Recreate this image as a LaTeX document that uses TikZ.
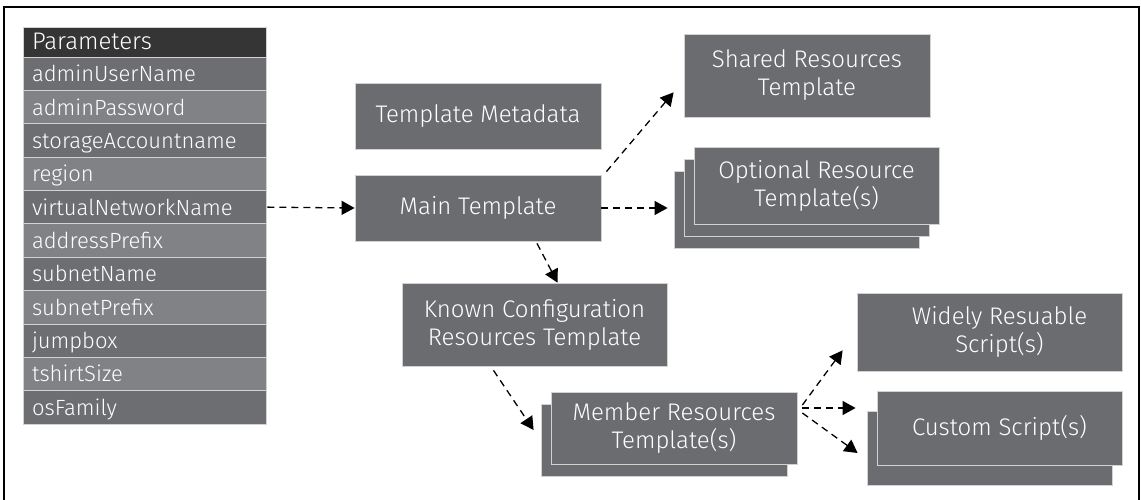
\documentclass[tikz,border=0pt]{standalone}
\usepackage{fontspec}
\IfFontExistsTF{Fira Sans Light}{\setmainfont{Fira Sans Light}}{\setmainfont{Liberation Sans}}
\usetikzlibrary{arrows.meta,calc}

\definecolor{boxgray}{HTML}{6B6C70}
\definecolor{rowdark}{HTML}{6D6E71}
\definecolor{rowlight}{HTML}{818285}
\definecolor{headgray}{HTML}{353535}

\tikzset{
  tbox/.style={fill=boxgray, draw=gray!35, line width=0.8pt, text=white,
    align=center, inner sep=0pt, font=\fontsize{24}{28}\selectfont},
  prow/.style={draw=gray!35, line width=0.6pt, text=white, minimum height=33.4pt,
    text width=225pt, inner xsep=9pt, inner ysep=0pt, align=left,
    text height=16pt, text depth=0pt, font=\fontsize{22}{24}\selectfont},
  flow/.style={line width=1.3pt, dash pattern=on 7pt off 5pt,
    -{Triangle[length=13pt,width=14pt]}},
}

\begin{document}
\begin{tikzpicture}[x=1pt,y=-1pt]
\useasboundingbox (0,0) rectangle (1141,500);
\draw[line width=2.2pt] (4,500) -- (4,7) -- (1139,7) -- (1139,500);

% parameter table
\node[prow, fill=headgray, minimum height=30pt, font=\fontsize{24}{26}\selectfont] (phead) at (144.5,42) {Parameters};
\foreach \pname [count=\i] in {adminUserName,adminPassword,storageAccountname,region,virtualNetworkName,addressPrefix,subnetName,subnetPrefix,jumpbox,tshirtSize,osFamily} {
  \ifodd\i \def\rowcol{rowdark}\else \def\rowcol{rowlight}\fi
  \node[prow, fill=\rowcol] (p\i) at (144.5,{57+33.36*(\i-0.5)}) {\pname};
}

% templates
\node[tbox, minimum width=246pt, minimum height=66pt] (meta) at (478,116) {Template Metadata};
\node[tbox, minimum width=246pt, minimum height=66pt] (main) at (478,208) {Main Template};
\node[tbox, minimum width=246pt, minimum height=83pt] (shared) at (807,75.5) {Shared Resources\\Template};

\node[tbox, minimum width=245pt, minimum height=77pt] (opt3) at (796.5,210) {};
\node[tbox, minimum width=245pt, minimum height=77pt] (opt2) at (806.5,198) {};
\node[tbox, minimum width=245pt, minimum height=77pt] (opt1) at (816.5,185.5) {Optional Resource\\Template(s)};

\node[tbox, minimum width=265pt, minimum height=83pt] (known) at (534.5,324.5) {Known Configuration\\Resources Template};

\node[tbox, minimum width=246pt, minimum height=72pt] (mem2) at (664,440) {};
\node[tbox, minimum width=246pt, minimum height=72pt] (mem1) at (674,428) {Member Resources\\Template(s)};

% scripts
\node[tbox, minimum width=265pt, minimum height=78pt] (wide) at (989.5,332) {\hspace*{20pt}Widely Resuable\\\hspace*{20pt}Script(s)};
\node[tbox, minimum width=245pt, minimum height=74pt] (cust2) at (989.5,448) {};
\node[tbox, minimum width=245pt, minimum height=74pt] (cust1) at (999.5,428) {Custom Script(s)};

% connectors
\draw[flow, shorten <=1pt] (p5.east) -- (main.west);
\draw[flow] ($(main.north east)+(5,-3)$) -- ($(shared.south west)+(-10,-25)$);
\draw[flow, shorten >=6pt] (main.east) -- (main.east -| opt3.west);
\draw[flow] ($(main.south)+(59,2)$) -- ($(known.north)+(23,0)$);
\draw[flow] ($(known.south)+(-41,4)$) -- ($(mem2.west)+(-7,-10)$);
\draw[flow] ($(mem1.east)+(5,-23)$) -- ($(wide.south west)+(-14,-21)$);
\draw[flow] ($(mem1.east)+(5,-20)$) -- ($(cust1.west)+(-21,-20)$);
\draw[flow] ($(mem1.east)+(5,-15)$) -- ($(cust2.west)+(-9,5)$);
\end{tikzpicture}
\end{document}
